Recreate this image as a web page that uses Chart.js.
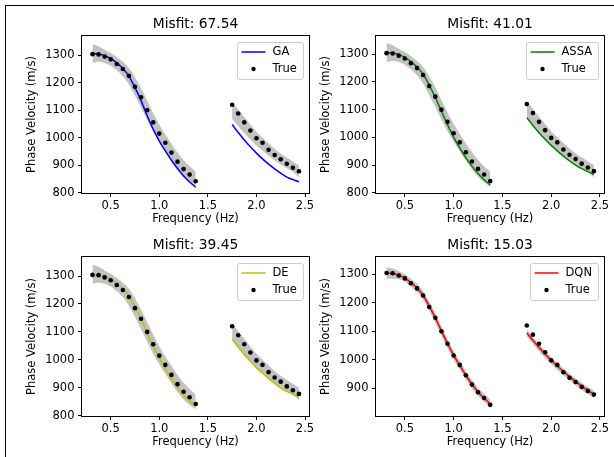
<!DOCTYPE html>
<html>
<head>
<meta charset="utf-8">
<script src="https://cdn.jsdelivr.net/npm/chart.js@4.4.0/dist/chart.umd.min.js"></script>
<style>
  html, body { margin: 0; padding: 0; background: #fff; width: 614px; height: 457px; overflow: hidden; position: relative; }
  #frame { position: absolute; left: 5px; top: 5px; width: 640px; height: 480px; border: 1px solid #000; }
  canvas { position: absolute; }
</style>
</head>
<body>
<div id="frame"></div>
<canvas id="c1"></canvas>
<canvas id="c2"></canvas>
<canvas id="c3"></canvas>
<canvas id="c4"></canvas>
<script>
// frequencies (Hz) of the two branches
const freqA = [0.3125, 0.375, 0.4375, 0.5, 0.5625, 0.625, 0.6875, 0.75, 0.8125, 0.875, 0.9375, 1.0, 1.0625, 1.125, 1.1875, 1.25, 1.3125, 1.375];
const freqB = [1.75, 1.8125, 1.875, 1.9375, 2.0, 2.0625, 2.125, 2.1875, 2.25, 2.3125, 2.375, 2.4375];

// true dispersion curve
const trueA = [1304, 1303, 1295, 1285, 1268, 1250, 1225, 1185, 1147, 1100, 1056, 1015, 982, 946, 913, 886, 866, 842];
const trueB = [1120, 1088, 1056, 1026, 998, 982, 956, 937, 922, 905, 891, 878];

// inverted curves
const gaA = [1306, 1305, 1298, 1288, 1272, 1252, 1224, 1182, 1135, 1080, 1031, 988, 952, 918, 888, 861, 839, 820];
const gaB = [1048, 1019, 992, 967, 944, 923, 904, 887, 871, 857, 848, 840];
const assaA = [1306, 1305, 1299, 1289, 1273, 1254, 1228, 1189, 1144, 1094, 1046, 1001, 962, 927, 896, 869, 847, 828];
const assaB = [1071, 1043, 1017, 993, 971, 951, 932, 915, 900, 887, 876, 866];
const deA = [1304, 1303, 1298, 1289, 1274, 1255, 1229, 1190, 1146, 1097, 1050, 1006, 968, 933, 902, 874, 853, 834];
const deB = [1074, 1046, 1019, 995, 972, 952, 933, 916, 900, 887, 877, 869];
const dqnA = [1303, 1302, 1296, 1286, 1270, 1251, 1226, 1188, 1147, 1101, 1057, 1016, 980, 946, 914, 887, 865, 846];
const dqnB = [1094, 1068, 1043, 1020, 998, 978, 959, 941, 924, 908, 893, 879];

// spread of the sampled curves (grey envelope)
const bandHiA = [1340, 1333, 1320, 1308, 1293, 1276, 1254, 1220, 1180, 1135, 1090, 1048, 1012, 978, 946, 918, 896, 876];
const bandLoA = [1272, 1276, 1272, 1262, 1245, 1224, 1194, 1153, 1110, 1065, 1022, 984, 950, 916, 884, 858, 838, 822];
const bandHiB = [1130, 1103, 1075, 1048, 1022, 1000, 980, 960, 943, 928, 914, 900];
const bandLoB = [1068, 1042, 1017, 994, 972, 953, 935, 918, 903, 889, 876, 855];
const dqnHiA = [1325, 1320, 1310, 1300, 1284, 1266, 1241, 1203, 1163, 1117, 1072, 1031, 996, 961, 929, 902, 881, 862];
const dqnLoA = [1283, 1285, 1282, 1273, 1256, 1237, 1210, 1172, 1130, 1084, 1040, 1000, 966, 932, 900, 873, 852, 832];
const dqnHiB = [1106, 1080, 1055, 1032, 1009, 989, 970, 952, 935, 919, 905, 892];
const dqnLoB = [1082, 1056, 1030, 1006, 985, 965, 946, 928, 911, 895, 880, 866];

const methods = ['GA', 'ASSA', 'DE', 'DQN'];
const misfits = ['67.54', '41.01', '39.45', '15.03'];
const xTicks = [0.5, 1.0, 1.5, 2.0, 2.5];
const yTicks = [800, 900, 1000, 1100, 1200, 1300];
const yTicksDqn = [900, 1000, 1100, 1200, 1300];

Chart.defaults.font.family = '"DejaVu Sans", sans-serif';
Chart.defaults.font.size = 11.5;
Chart.defaults.color = '#000';

const Y_W = 58;
const BAND = '#c2c2c2';

const pts = (xs, ys) => xs.map((x, i) => ({ x: x, y: ys[i] }));

// axes box on all four sides
const frameBox = {
  id: 'frameBox',
  afterDatasetsDraw(chart) {
    const { ctx, chartArea: a } = chart;
    ctx.save();
    ctx.strokeStyle = '#000';
    ctx.lineWidth = 1;
    ctx.strokeRect(Math.round(a.left) - 0.5, Math.round(a.top) - 0.5, Math.round(a.right - a.left) + 1, Math.round(a.bottom - a.top) + 1);
    ctx.restore();
  }
};

// legend box in the upper right corner of the axes
const boxLegend = {
  id: 'boxLegend',
  afterDraw(chart, args, opts) {
    const { ctx, chartArea: a } = chart;
    ctx.save();
    ctx.font = '11.5px "DejaVu Sans"';
    const tw = Math.max(...opts.items.map(it => ctx.measureText(it.text).width));
    const w = 4.5 + 24 + 7 + tw + 6, h = 37;
    const x = Math.round(a.right - 6 - w), y = Math.round(a.top + 6);
    ctx.beginPath();
    ctx.roundRect(x + 0.5, y + 0.5, w, h, 2.5);
    ctx.fillStyle = 'rgba(255,255,255,0.8)';
    ctx.fill();
    ctx.strokeStyle = '#cccccc';
    ctx.lineWidth = 1;
    ctx.stroke();
    opts.items.forEach((it, i) => {
      const cy = y + 10 + i * 17, hx = x + 4.5;
      if (it.kind === 'line') {
        ctx.strokeStyle = it.color;
        ctx.lineWidth = 1.5;
        ctx.beginPath();
        ctx.moveTo(hx, cy);
        ctx.lineTo(hx + 24, cy);
        ctx.stroke();
      } else {
        ctx.fillStyle = '#000';
        ctx.beginPath();
        ctx.arc(hx + 12, cy, 2.2, 0, Math.PI * 2);
        ctx.fill();
      }
      ctx.fillStyle = '#000';
      ctx.textBaseline = 'middle';
      ctx.fillText(it.text, hx + 24 + 7, cy);
    });
    ctx.restore();
  }
};

const panels = [
  { id: 'c1', l: 82, t: 36, r: 309, b: 193, color: '#0000ff', modelA: gaA, modelB: gaB, hiA: bandHiA, loA: bandLoA, hiB: bandHiB, loB: bandLoB, ymin: 799, ymax: 1370, ticks: yTicks },
  { id: 'c2', l: 376, t: 36, r: 604, b: 193, color: '#008000', modelA: assaA, modelB: assaB, hiA: bandHiA, loA: bandLoA, hiB: bandHiB, loB: bandLoB, ymin: 799, ymax: 1366, ticks: yTicks },
  { id: 'c3', l: 82, t: 257, r: 309, b: 416, color: '#bfbf00', modelA: deA, modelB: deB, hiA: bandHiA, loA: bandLoA, hiB: bandHiB, loB: bandLoB, ymin: 799, ymax: 1368, ticks: yTicks },
  { id: 'c4', l: 376, t: 257, r: 604, b: 416, color: '#ff0000', modelA: dqnA, modelB: dqnB, hiA: dqnHiA, loA: dqnLoA, hiB: dqnHiB, loB: dqnLoB, ymin: 803, ymax: 1360, ticks: yTicksDqn }
];

const tickGrid = { drawOnChartArea: false, drawTicks: true, tickLength: 4, color: '#000', lineWidth: 1 };

panels.forEach((p, k) => {
  const cv = document.getElementById(p.id);
  cv.width = p.r - p.l + Y_W + 16;
  cv.height = p.b - p.t + 68;
  cv.style.left = (p.l - Y_W) + 'px';
  cv.style.top = (p.t - 34) + 'px';

  const dots = d => ({ data: d, showLine: false, pointRadius: 2.3, pointBackgroundColor: '#000', pointBorderWidth: 0, borderColor: '#000' });
  const model = d => ({ data: d, borderColor: p.color, borderWidth: 1.5, pointRadius: 0, cubicInterpolationMode: 'monotone' });
  const band = (d, f) => ({ data: d, fill: f, backgroundColor: BAND, borderColor: 'rgba(0,0,0,0)', borderWidth: 0, pointRadius: 0, cubicInterpolationMode: 'monotone' });

  new Chart(cv, {
    type: 'line',
    data: {
      datasets: [
        dots(pts(freqA, trueA)),
        dots(pts(freqB, trueB)),
        model(pts(freqA, p.modelA)),
        model(pts(freqB, p.modelB)),
        band(pts(freqA, p.hiA), '+1'),
        band(pts(freqA, p.loA), false),
        band(pts(freqB, p.hiB), '+1'),
        band(pts(freqB, p.loB), false)
      ]
    },
    options: {
      responsive: false,
      animation: false,
      layout: { padding: { left: 0, right: 16, top: 0, bottom: 0 } },
      plugins: {
        legend: { display: false },
        tooltip: { enabled: false },
        title: {
          display: true, fullSize: false, text: 'Misfit: ' + misfits[k], color: '#000',
          font: { size: 13.8, weight: 'normal' }, padding: { top: 14.2, bottom: 3.24 }
        },
        boxLegend: { items: [{ text: methods[k], kind: 'line', color: p.color }, { text: 'True', kind: 'dot' }] }
      },
      scales: {
        x: {
          type: 'linear', min: 0.2046, max: 2.541,
          afterFit: s => { s.height = 34; },
          afterBuildTicks: s => { s.ticks = xTicks.map(v => ({ value: v })); },
          ticks: { callback: v => v.toFixed(1), padding: 2, maxRotation: 0, autoSkip: false },
          grid: tickGrid,
          border: { display: false },
          title: { display: true, text: 'Frequency (Hz)', padding: { top: 0, bottom: 1 } }
        },
        y: {
          min: p.ymin, max: p.ymax,
          afterFit: s => { s.width = Y_W; },
          afterBuildTicks: s => { s.ticks = p.ticks.map(v => ({ value: v })); },
          ticks: { callback: v => String(v), padding: 3.5, autoSkip: false },
          grid: tickGrid,
          border: { display: false },
          title: { display: true, text: 'Phase Velocity (m/s)', padding: { top: 1, bottom: 0 } }
        }
      }
    },
    plugins: [frameBox, boxLegend]
  });
});
</script>
</body>
</html>
